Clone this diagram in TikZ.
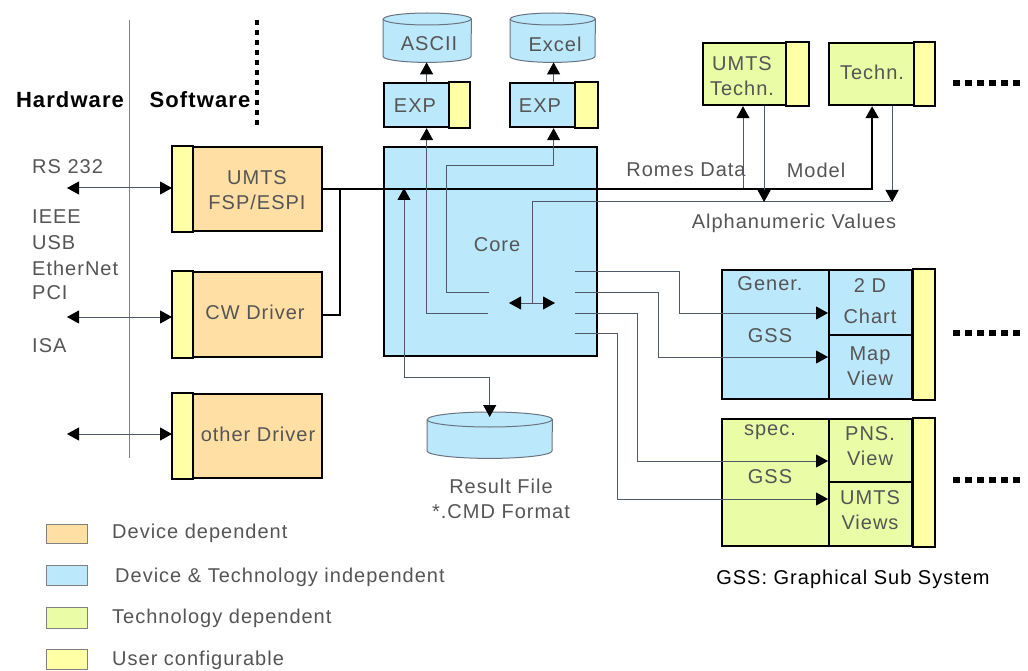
\documentclass[tikz,border=0pt]{standalone}
\usepackage{fontspec}
\setmainfont{Liberation Sans}[LetterSpace=5]
\usetikzlibrary{arrows.meta}
\definecolor{devc}{HTML}{FFDFA3}
\definecolor{indc}{HTML}{BCE8FC}
\definecolor{techc}{HTML}{EAFCA6}
\definecolor{userc}{HTML}{FFFFA6}
\definecolor{txtc}{HTML}{555555}
\definecolor{linec}{HTML}{4E5866}
\definecolor{cylc}{HTML}{6A7480}
\newcommand\drawcyl[3]{%
  \fill[indc] ([yshift=-#3]#1.north west) -- ([yshift=#3]#1.south west)
     arc[start angle=180,end angle=360,x radius=#2,y radius=#3]
     -- ([yshift=-#3]#1.north east)
     arc[start angle=0,end angle=180,x radius=#2,y radius=#3] -- cycle;
  \draw[cylc,line width=1pt] ([yshift=-#3]#1.north west) -- ([yshift=#3]#1.south west)
     arc[start angle=180,end angle=360,x radius=#2,y radius=#3]
     -- ([yshift=-#3]#1.north east)
     arc[start angle=0,end angle=180,x radius=#2,y radius=#3];
  \draw[cylc,line width=1pt] ([yshift=-#3]#1.north west)
     arc[start angle=180,end angle=360,x radius=#2,y radius=#3];
}
\begin{document}
\begin{tikzpicture}[x=1pt,y=-1pt,
  lbl/.style={text=txtc,font=\fontsize{20}{25}\selectfont,inner sep=0,align=center},
  hdr/.style={text=black,font=\fontsize{22}{26}\selectfont\bfseries,inner sep=0},
  blk/.style={draw=black,line width=2.2pt,inner sep=0,anchor=north west},
  cylnode/.style={inner sep=0,anchor=north west},
  stripbox/.style={draw=black,line width=2.2pt,fill=userc},
  thinln/.style={draw=linec,line width=1pt},
  fatln/.style={draw=black,line width=2pt},
  tip/.style={-{Triangle[length=12pt,width=13pt,color=black]}},
  dtip/.style={{Triangle[length=12pt,width=13pt,color=black]}-{Triangle[length=12pt,width=13pt,color=black]}},
  swatch/.style={draw=gray,line width=1pt,anchor=north west,minimum width=41pt,inner sep=0},
  dots/.style={draw=black,line width=6pt,dash pattern=on 6.5pt off 5.5pt}
]
\useasboundingbox (0,0) rectangle (1028,671);
\fill[white] (0,0) rectangle (1028,671);

% hardware / software separators
\draw[gray,line width=1pt] (129,20) -- (129,458);
\draw[black,line width=4.5pt,dash pattern=on 5pt off 5pt] (257,20) -- (257,126);
\node[hdr] (hw) at (70,100) {Hardware};
\node[hdr] (sw) at (200,100) {Software};

% interfaces
\node[lbl,anchor=west] (rs) at (32,167) {RS 232};
\node[lbl,anchor=west] (ieee) at (32,217) {IEEE};
\node[lbl,anchor=west] (usb) at (32,243) {USB};
\node[lbl,anchor=west] (eth) at (32,268) {EtherNet};
\node[lbl,anchor=west] (pci) at (32,293) {PCI};
\node[lbl,anchor=west] (isa) at (32,346) {ISA};

% drivers
\node[blk,fill=devc,minimum width=149pt,minimum height=84pt] (fsp) at (172,146) {};
\draw[stripbox] (fsp.north west) rectangle ([xshift=21pt]fsp.south west);
\node[lbl] (fsptxt) at (257,190) {UMTS\\FSP/ESPI};
\node[blk,fill=devc,minimum width=149pt,minimum height=85pt] (cw) at (172,271) {};
\draw[stripbox] (cw.north west) rectangle ([xshift=21pt]cw.south west);
\node[lbl] (cwtxt) at (255,312) {CW Driver};
\node[blk,fill=devc,minimum width=149pt,minimum height=84pt] (oth) at (172,393) {};
\draw[stripbox] (oth.north west) rectangle ([xshift=21pt]oth.south west);
\node[lbl] (othtxt) at (258,434) {other Driver};

\coordinate (h1) at (67,188);
\coordinate (h2) at (67,317);
\coordinate (h3) at (67,434);
\draw[thinln,dtip] (h1) -- (fsp.west |- h1);
\draw[thinln,dtip] (h2) -- (cw.west |- h2);
\draw[thinln,dtip] (h3) -- (oth.west |- h3);

% core
\node[blk,fill=indc,minimum width=213pt,minimum height=209pt] (core) at (383,146) {};
\node[lbl] (coretxt) at (497,245) {Core};

% export boxes
\node[blk,fill=indc,minimum width=85pt,minimum height=44pt] (exp1) at (383,82) {};
\draw[stripbox] ([xshift=-21pt]exp1.north east) rectangle (exp1.south east);
\node[lbl] (exp1txt) at (415,106) {EXP};
\node[blk,fill=indc,minimum width=87pt,minimum height=44pt] (exp2) at (509,82) {};
\draw[stripbox] ([xshift=-23pt]exp2.north east) rectangle (exp2.south east);
\node[lbl] (exp2txt) at (540,106) {EXP};

% cylinders
\node[cylnode,minimum width=88pt,minimum height=49pt] (ascii) at (383,13) {};
\drawcyl{ascii}{44pt}{6pt}
\node[lbl] (asciitxt) at (429,44) {ASCII};
\node[cylnode,minimum width=85pt,minimum height=49pt] (excel) at (510,13) {};
\drawcyl{excel}{42.5pt}{6pt}
\node[lbl] (exceltxt) at (555,44) {Excel};
\node[cylnode,minimum width=125pt,minimum height=46pt] (result) at (427,412) {};
\drawcyl{result}{62.5pt}{7.5pt}
\node[lbl] (restxt) at (501,499) {Result File\\*.CMD Format};

% technology boxes
\node[blk,fill=techc,minimum width=105pt,minimum height=62pt] (umtst) at (702,42) {};
\draw[stripbox] ([xshift=-23pt]umtst.north east) rectangle (umtst.south east);
\node[lbl] (umtsttxt) at (742,76) {UMTS\\Techn.};
\node[blk,fill=techc,minimum width=105pt,minimum height=62pt] (techn) at (828,42) {};
\draw[stripbox] ([xshift=-21pt]techn.north east) rectangle (techn.south east);
\node[lbl] (techntxt) at (872,72) {Techn.};
\draw[dots] (953,83) -- (1021,83);

% GSS boxes
\node[blk,fill=indc,minimum width=212pt,minimum height=129pt] (gss1) at (721,269) {};
\draw[stripbox] ([xshift=-22pt]gss1.north east) rectangle (gss1.south east);
\node[blk,fill=indc,minimum width=83pt,minimum height=65pt] (chart) at (828,269) {};
\node[blk,fill=indc,minimum width=83pt,minimum height=64pt] (map) at (828,334) {};
\node[lbl] (gener) at (770,284) {Gener.};
\node[lbl] (gss1a) at (770,336) {GSS};
\node[lbl] (charttxt) at (870,301) {2 D\\[6pt]Chart};
\node[lbl] (maptxt) at (870,366) {Map\\View};
\draw[dots] (953,333) -- (1021,333);

\node[blk,fill=techc,minimum width=212pt,minimum height=127pt] (gss2) at (721,418) {};
\draw[stripbox] ([xshift=-22pt]gss2.north east) rectangle (gss2.south east);
\node[blk,fill=techc,minimum width=83pt,minimum height=63pt] (pns) at (828,418) {};
\node[blk,fill=techc,minimum width=83pt,minimum height=64pt] (uviews) at (828,481) {};
\node[lbl] (spec) at (770,432) {spec.};
\node[lbl] (gss2a) at (770,477) {GSS};
\node[lbl] (pnstxt) at (870,446) {PNS.\\View};
\node[lbl] (uvtxt) at (870,510) {UMTS\\Views};
\draw[dots] (953,480) -- (1021,480);

% labels on lines
\node[lbl] (romes) at (686,170) {Romes Data};
\node[lbl] (model) at (816,170) {Model};
\node[lbl] (alnum) at (794,223) {Alphanumeric Values};

% thick data bus
\draw[fatln,tip] (fsp.east) -| ([xshift=-9.5pt]techn.south);
\draw[fatln] (cw.east) -| (340,188);
\coordinate (busU) at (743,188);
\draw[thinln,tip] (busU) -- (busU |- umtst.south);

% alphanumeric values line
\coordinate (dbl) at (532,303);
\coordinate (av) at (532,202);
\draw[thinln] (dbl) -- (av) -- (891,202);
\draw[thinln,dtip] (509,303) -- (555,303);
\draw[thinln,tip] ([xshift=8.5pt]umtst.south) -- ([xshift=8.5pt]umtst.south |- av);
\draw[thinln,tip] ([xshift=10.5pt]techn.south) -- ([xshift=10.5pt]techn.south |- av);

% exports
\coordinate (e1) at (488,313);
\draw[thinln,tip] (e1) -| (exp1.south);
\draw[thinln,tip] (exp1.north) -- (exp1.north |- ascii.south);
\coordinate (e2) at (489,292);
\draw[thinln,tip] (e2) -- (446,292) -- (446,166) -| (exp2.south);
\draw[thinln,tip] (exp2.north) -- (exp2.north |- excel.south);

% result file
\coordinate (r0) at (404,377);
\draw[thinln,tip] (r0) -- (404,188);
\draw[thinln,tip] (r0) -| ([yshift=-5pt]result.north);

% views
\draw[thinln,tip] (575,271) -- (679,271) -- (679,313) -- (chart.west |- 0,313);
\draw[thinln,tip] (575,292) -- (658,292) -- (658,357) -- (map.west |- 0,357);
\draw[thinln,tip] (575,313) -- (637,313) -- (637,461) -- (pns.west |- 0,461);
\draw[thinln,tip] (575,333) -- (617,333) -- (617,499) -- (uviews.west |- 0,499);

% legend
\node[swatch,fill=devc,minimum height=19pt] (sw1) at (46,524) {};
\node[swatch,fill=indc,minimum height=20pt] (sw2) at (46,565) {};
\node[swatch,fill=techc,minimum height=21pt] (sw3) at (46,607) {};
\node[swatch,fill=userc,minimum height=20pt] (sw4) at (46,649) {};
\node[lbl,anchor=west] (lg1) at (112,533) {Device dependent};
\node[lbl,anchor=west] (lg2) at (115,577) {Device \& Technology independent};
\node[lbl,anchor=west] (lg3) at (112,618) {Technology dependent};
\node[lbl,anchor=west] (lg4) at (112,660) {User configurable};
\node[lbl,text=black] (gsslg) at (853,579) {GSS: Graphical Sub System};
\end{tikzpicture}
\end{document}
